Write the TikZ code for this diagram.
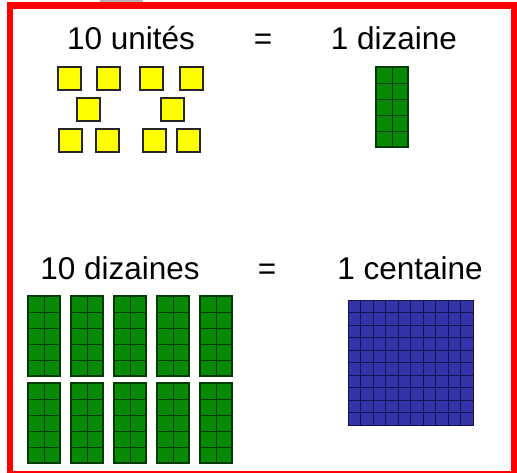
\documentclass[tikz,border=0pt]{standalone}
\usepackage{fontspec}
\setmainfont{Liberation Sans}
\definecolor{dizgreen}{RGB}{8,138,8}
\definecolor{dizline}{RGB}{0,60,0}
\definecolor{centblue}{RGB}{52,52,168}
\definecolor{centline}{RGB}{18,18,80}
\definecolor{unityellow}{RGB}{255,255,0}
\definecolor{framered}{RGB}{255,0,0}
\tikzset{
  label/.style={font=\fontsize{31.5}{36}\selectfont, inner sep=0pt, anchor=base},
  unitbox/.style={fill=unityellow, draw=black!85, line width=1.1pt},
  gridline/.style={draw=dizline, line width=0.7pt},
  outline/.style={draw=dizline, line width=1.1pt},
  bgridline/.style={draw=centline, line width=0.6pt},
}
\newcommand{\dizbar}[2]{%
  \fill[dizgreen] (#1,#2) rectangle ++(32,80);
  \draw[gridline] (#1+16,#2) -- ++(0,80);
  \foreach \k in {1,...,4} {\draw[gridline] (#1,#2+16*\k) -- ++(32,0);}
  \draw[outline] (#1,#2) rectangle ++(32,80);}
\newcommand{\unitsq}[2]{\draw[unitbox] (#1,#2) rectangle ++(23,23);}
\begin{document}
\begin{tikzpicture}[x=1pt,y=-1pt]
\useasboundingbox (0,0) rectangle (517,472);
\clip (0,0) rectangle (517,472);
\fill[white] (0,0) rectangle (517,472);
% small grey fragment at the top
\fill[gray!60] (100,0) rectangle (143,2.5);
% red frame
\draw[framered, line width=6.5pt] (10,5.5) rectangle (514,474.5);
% labels
\node[label] (u) at (131,49) {10 unités};
\node[label] (e1) at (263,49) {=};
\node[label] (d) at (394,49) {1 dizaine};
\node[label] (dz) at (120,279) {10 dizaines};
\node[label] (e2) at (267,279) {=};
\node[label] (c) at (410,279) {1 centaine};
% ten units
\unitsq{58}{67}\unitsq{97}{67}\unitsq{140}{67}\unitsq{180}{67}
\unitsq{77}{98}\unitsq{161}{98}
\unitsq{59}{129}\unitsq{96}{129}\unitsq{143}{129}\unitsq{177}{129}
% one ten
\dizbar{376}{67}
% ten tens
\foreach \xx in {28,71,114,157,200} {
  \dizbar{\xx}{296}
  \dizbar{\xx}{383}
}
% one hundred
\fill[centblue] (348,300) rectangle (473,425);
\foreach \k in {1,...,9} {
  \draw[bgridline] (348+12.5*\k,300) -- ++(0,125);
  \draw[bgridline] (348,300+12.5*\k) -- ++(125,0);
}
\draw[draw=centline, line width=1pt] (348,300) rectangle (473,425);
\end{tikzpicture}
\end{document}
